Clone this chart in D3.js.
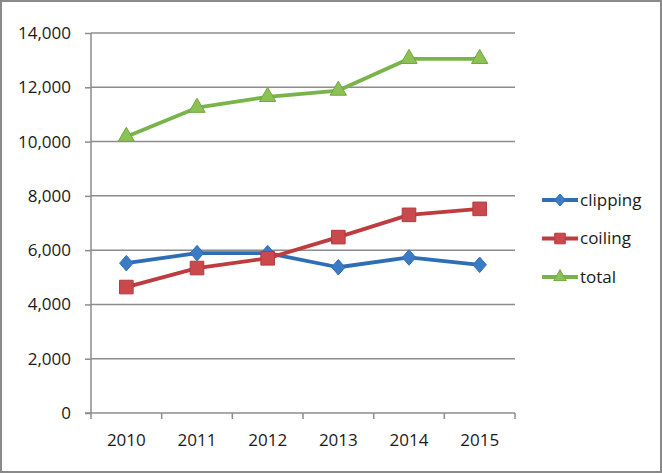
<!DOCTYPE html>
<html><head><meta charset="utf-8">
<script src="https://cdn.jsdelivr.net/npm/d3@7"></script>
<style>body{margin:0;background:#fff}svg{display:block}</style>
</head><body><svg id="c" width="662" height="473"></svg>
<script>
const years = ["2010","2011","2012","2013","2014","2015"];
const clipping = [5520, 5890, 5890, 5370, 5730, 5460];
const coiling = [4640, 5340, 5700, 6480, 7300, 7520];
const total = [10180, 11250, 11650, 11880, 13050, 13050];
const yTicks = [0, 2000, 4000, 6000, 8000, 10000, 12000, 14000];
const seriesNames = ["clipping", "coiling", "total"];

(function(){
const diamond = {draw(ctx, size){ const r = Math.sqrt(size)/2; ctx.moveTo(0,-r*1.1); ctx.lineTo(r*0.95,0); ctx.lineTo(0,r*1.1); ctx.lineTo(-r*0.95,0); ctx.closePath(); }};
const series = [
  {name: seriesNames[0], values: clipping, color: "#2F6EB4", stroke:"#2F6EB4", fill:"#3B7BC6", sym: diamond, size: 200},
  {name: seriesNames[1], values: coiling, color: "#BE3B40", stroke:"#B23A3E", fill:"#C9494D", sym: d3.symbolSquare, size: 185},
  {name: seriesNames[2], values: total, color: "#79B44A", stroke:"#6FA83F", fill:"#8DC153", sym: d3.symbolTriangle, size: 115}
];

const svg = d3.select("#c");
const font = "'Open Sans',Arial,sans-serif";
svg.append("rect").attr("x",1).attr("y",1).attr("width",660).attr("height",471)
  .attr("fill","#fff").attr("stroke","#8a8a8a").attr("stroke-width",2);

const mL = 91, mR = 515, mT = 33, mB = 413;
const x = d3.scaleBand().domain(years).range([mL, mR]);
const y = d3.scaleLinear().domain([0, 14000]).range([mB, mT]);

svg.append("g").selectAll("line").data(yTicks.filter(d=>d>0)).join("line")
  .attr("x1", mL).attr("x2", mR).attr("y1", d=>y(d)).attr("y2", d=>y(d))
  .attr("stroke","#8c8c8c").attr("stroke-width",1.5);

const ya = svg.append("g").attr("transform",`translate(${mL},0)`)
  .call(d3.axisLeft(y).tickValues(yTicks).tickFormat(d3.format(",")).tickSize(6).tickPadding(14));
ya.select(".domain").attr("stroke","#8c8c8c").attr("stroke-width",1.5).attr("d",`M0,${mT}V${mB}`);
ya.selectAll(".tick line").attr("stroke","#8c8c8c").attr("stroke-width",1.5);
ya.selectAll("text").attr("font-family",font).attr("font-size",17).attr("fill","#1a1a1a");

const xa = svg.append("g").attr("transform",`translate(0,${mB})`);
xa.append("line").attr("x1",mL-6).attr("x2",mR).attr("stroke","#8c8c8c").attr("stroke-width",1.5);
const edges = years.map(d=>x(d)).concat([mR]);
xa.selectAll("line.tk").data(edges).join("line").attr("class","tk")
  .attr("x1",d=>d).attr("x2",d=>d).attr("y1",0).attr("y2",6).attr("stroke","#8c8c8c").attr("stroke-width",1.5);
xa.selectAll("text").data(years).join("text")
  .attr("x", d=>x(d)+x.bandwidth()/2).attr("y", 33).attr("text-anchor","middle")
  .attr("font-family",font).attr("font-size",17).attr("fill","#1a1a1a").text(d=>d);

const line = d3.line().x((d,i)=>x(years[i])+x.bandwidth()/2).y(d=>y(d));
series.forEach(s=>{
  svg.append("path").datum(s.values).attr("d", line).attr("fill","none")
    .attr("stroke", s.color).attr("stroke-width",3.8).attr("stroke-linejoin","round");
  svg.append("g").selectAll("path").data(s.values).join("path")
    .attr("transform",(d,i)=>`translate(${x(years[i])+x.bandwidth()/2},${y(d)})`)
    .attr("d", d3.symbol().type(s.sym).size(s.size)())
    .attr("fill", s.fill).attr("stroke", s.stroke).attr("stroke-width",1);
});

const lg = svg.append("g");
series.forEach((s,i)=>{
  const ly = 200 + i*38.5;
  lg.append("line").attr("x1",542).attr("x2",578).attr("y1",ly).attr("y2",ly)
    .attr("stroke",s.color).attr("stroke-width",3.8);
  lg.append("path").attr("transform",`translate(560,${ly})`)
    .attr("d", d3.symbol().type(s.sym).size(s.size*0.6)())
    .attr("fill", s.fill).attr("stroke", s.stroke).attr("stroke-width",1);
  lg.append("text").attr("x",580).attr("y",ly).attr("dy","0.35em")
    .attr("font-family",font).attr("font-size",17).attr("fill","#1a1a1a").text(s.name);
});
})();
</script></body></html>
